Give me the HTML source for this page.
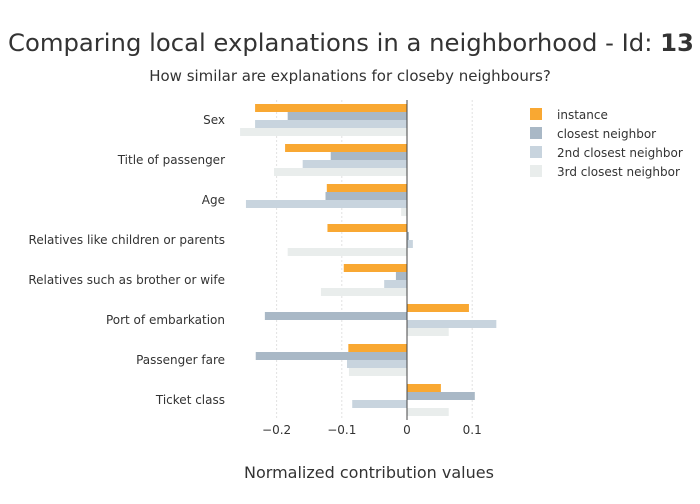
<!DOCTYPE html>
<html><head><meta charset="utf-8"><style>
body{margin:0;background:#fff;font-family:"DejaVu Sans","Liberation Sans",sans-serif;}
svg text{font-family:"DejaVu Sans","Liberation Sans",sans-serif;fill:#333;}
</style></head><body>
<svg id="chart" width="700" height="500">
<text x="8" y="51" font-size="24.3">Comparing local explanations in a neighborhood - Id: <tspan font-weight="bold">13</tspan></text>
<text x="350" y="81" font-size="15" text-anchor="middle">How similar are explanations for closeby neighbours?</text>
<text x="369" y="478" font-size="16" text-anchor="middle">Normalized contribution values</text>
<g id="grid"></g><g id="bars"></g><g id="ylabels"></g><g id="xticks"></g>
<line x1="407" x2="407" y1="100" y2="420" stroke="#444" stroke-width="1"/>
<g id="legend"></g>
</svg>
<script>
const categories=["Sex","Title of passenger","Age","Relatives like children or parents","Relatives such as brother or wife","Port of embarkation","Passenger fare","Ticket class"];
const seriesNames=["instance","closest neighbor","2nd closest neighbor","3rd closest neighbor"];
const instance=[-0.233,-0.187,-0.123,-0.122,-0.097,0.095,-0.090,0.052];
const closest=[-0.183,-0.117,-0.125,0.003,-0.017,-0.218,-0.232,0.104];
const second=[-0.233,-0.160,-0.247,0.009,-0.035,0.137,-0.092,-0.084];
const third=[-0.256,-0.204,-0.009,-0.183,-0.132,0.064,-0.089,0.064];
const tickValues=[-0.2,-0.1,0,0.1];
const tickLabels=["−0.2","−0.1","0","0.1"];
const colors=["#f9a832","#a9b8c6","#c8d4de","#e9edec"];
const NS="http://www.w3.org/2000/svg";
const xs=v=>407+v*652;
const ys=i=>100+i*40;
function mk(t,a,p){const e=document.createElementNS(NS,t);for(const k in a)e.setAttribute(k,a[k]);p.appendChild(e);return e;}
const grid=document.getElementById('grid'),xt=document.getElementById('xticks');
tickValues.forEach((v,i)=>{
 const l=mk('line',{x1:xs(v),x2:xs(v),y1:100,y2:420,stroke:'#e2e2e2','stroke-dasharray':'2,2'},grid);
 
 
 const t=mk('text',{x:xs(v),y:434,'font-size':12,'text-anchor':'middle'},xt);t.textContent=tickLabels[i];
 
 
});
const bars=document.getElementById('bars'),yl=document.getElementById('ylabels');
[instance,closest,second,third].forEach((arr,s)=>{
 arr.forEach((v,i)=>{
  const x0=Math.min(xs(0),xs(v)),w=Math.abs(xs(v)-xs(0));
  const r=mk('rect',{x:x0,y:ys(i)+4+s*8,width:w,height:8,fill:colors[s]},bars);
  
  
 });
});
categories.forEach((c,i)=>{
 const t=mk('text',{x:225,y:ys(i)+24,'font-size':12,'text-anchor':'end'},yl);t.textContent=c;
 
 
});
const lg=document.getElementById('legend');
seriesNames.forEach((n,i)=>{
 const r=mk('rect',{x:530,y:108+i*19,width:12,height:12,fill:colors[i]},lg);
 
 
 const t=mk('text',{x:557,y:119+i*19,'font-size':12},lg);t.textContent=n;
 
 
});
</script>
</body></html>
